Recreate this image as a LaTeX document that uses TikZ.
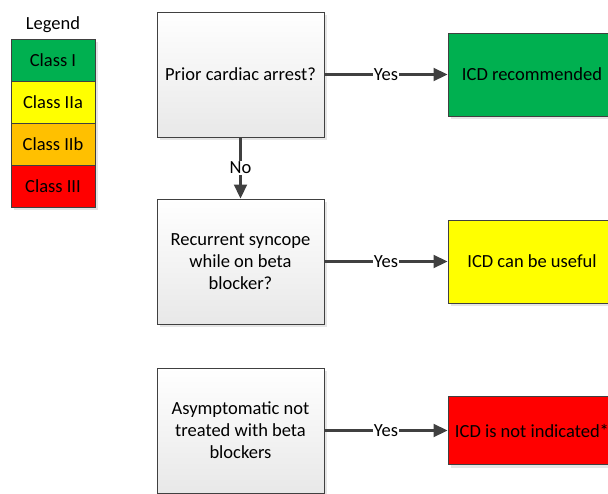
\documentclass[tikz,border=0pt]{standalone}
\usepackage{fontspec}
\setmainfont{Carlito}
\usetikzlibrary{arrows.meta,shadows}
\definecolor{classI}{HTML}{00B050}
\definecolor{classIIa}{HTML}{FFFF00}
\definecolor{classIIb}{HTML}{FFC000}
\definecolor{classIII}{HTML}{FF0000}
\definecolor{edgegray}{HTML}{404040}
\tikzset{
  txt/.style={font=\fontsize{18.5}{22}\selectfont},
  shade/.style={drop shadow={shadow xshift=3pt, shadow yshift=-3pt, fill=black!10, opacity=1}},
  legbox/.style={txt, draw=edgegray, line width=1pt, minimum width=84pt, minimum height=42pt, inner sep=0pt, shade},
  qbox/.style={txt, draw=edgegray, line width=1pt, top color=white, bottom color=black!9, minimum width=167pt, minimum height=125pt, align=center, shade},
  rbox/.style={txt, draw=edgegray, line width=1pt, minimum width=168pt, inner sep=0pt, shade},
  flow/.style={draw=edgegray, line width=2.2pt, -{Triangle[length=14pt,width=13pt]}},
  lbl/.style={txt, fill=white, inner sep=1pt}
}
\begin{document}
\begin{tikzpicture}[x=1pt, y=-1pt]
    \useasboundingbox (0,0) rectangle (608,493);

    % Legend
    \node[txt] (legend) at (53,25) {Legend};
    \node[legbox, fill=classI] (lI) at (53,60) {Class I};
    \node[legbox, fill=classIIa] (lIIa) at (53,102) {Class IIa};
    \node[legbox, fill=classIIb] (lIIb) at (53,144) {Class IIb};
    \node[legbox, fill=classIII] (lIII) at (53,186) {Class III};

    % Questions
    \node[qbox] (arrest) at (240.5,74.5) {Prior cardiac arrest?};
    \node[qbox] (syncope) at (240.5,261.5) {Recurrent syncope\\while on beta\\blocker?};
    \node[qbox] (asympt) at (240.5,430.5) {Asymptomatic not\\treated with beta\\blockers};

    % Outcomes
    \node[rbox, fill=classI, minimum height=83pt] (recommended) at (532,74.5) {ICD recommended};
    \node[rbox, fill=classIIa, minimum height=83pt] (useful) at (532,261.5) {ICD can be useful};
    \node[rbox, fill=classIII, minimum height=68pt] (notind) at (532,430.5) {ICD is not indicated*};

    % Connectors
    \draw[flow] (arrest) -- node[lbl] {Yes} (recommended);
    \draw[flow] (arrest) -- node[lbl] {No} (syncope);
    \draw[flow] (syncope) -- node[lbl] {Yes} (useful);
    \draw[flow] (asympt) -- node[lbl] {Yes} (notind);
\end{tikzpicture}
\end{document}
